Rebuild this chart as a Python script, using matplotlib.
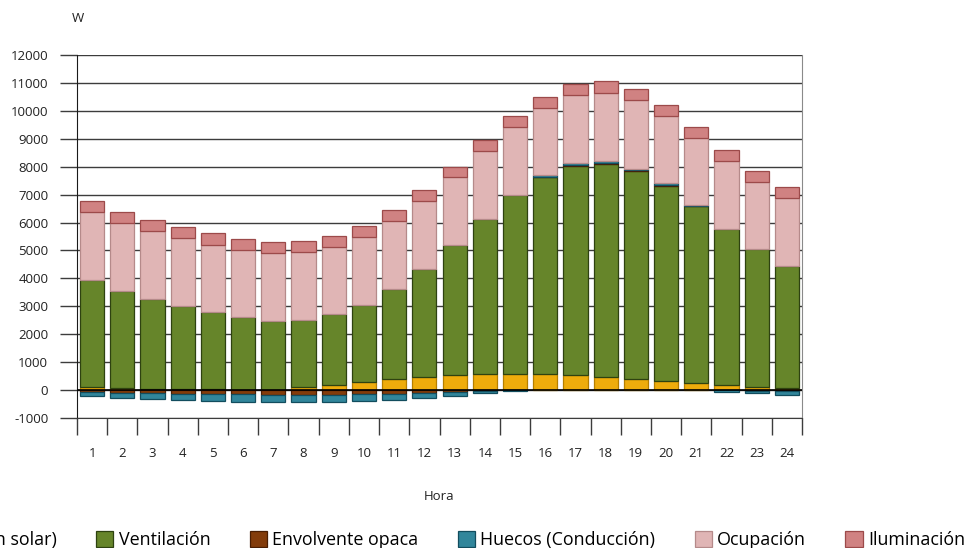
import numpy as np
import matplotlib.pyplot as plt
from matplotlib.ticker import FixedLocator

plt.rcParams['font.family'] = ['Open Sans', 'DejaVu Sans']
plt.rcParams['axes.unicode_minus'] = False

horas = list(range(1, 25))

# cargas por hora (W)
radiacion_solar = [96, 72, 48, 36, 24, 12, 10, 96, 191, 299, 394, 477,
                   537, 584, 584, 561, 525, 477, 406, 334, 262, 167, 107, 72]
ventilacion = [3855, 3474, 3222, 2984, 2757, 2591, 2450, 2400, 2519, 2757, 3223, 3868,
               4645, 5529, 6400, 7056, 7498, 7613, 7426, 6960, 6317, 5599, 4931, 4380]
envolvente = [-85, -95, -107, -131, -143, -155, -167, -167, -167, -143, -131, -107,
              -72, -36, -10, 30, 40, 40, 40, 45, 18, -15, -30, -40]
conduccion = [-145, -190, -227, -227, -251, -263, -275, -275, -263, -263, -239, -193,
              -132, -84, -38, 43, 57, 72, 54, 64, 18, -45, -90, -140]
ocupacion = [2413, 2424, 2425, 2424, 2424, 2411, 2435, 2435, 2423, 2436, 2424, 2436,
             2435, 2447, 2436, 2410, 2435, 2448, 2449, 2422, 2411, 2425, 2412, 2425]
iluminacion = [405, 405, 394, 394, 406, 406, 395, 394, 395, 394, 394, 394,
               382, 381, 394, 406, 405, 405, 393, 394, 394, 394, 406, 393]

series = [
    ("Huecos (Radiación solar)", radiacion_solar, "#EEAC0C", "#B57F00"),
    ("Ventilación", ventilacion, "#66852A", "#2E4210"),
    ("Envolvente opaca", envolvente, "#833C0B", "#4A1E03"),
    ("Huecos (Conducción)", conduccion, "#31869B", "#124D5E"),
    ("Ocupación", ocupacion, "#E0B5B5", "#B58A8A"),
    ("Iluminación", iluminacion, "#D08282", "#9C4A4A"),
]

W, H = 966, 548
fig = plt.figure(figsize=(W / 100, H / 100), dpi=100)
ax = fig.add_axes([77 / W, (H - 418) / H, 725 / W, 363 / H])

x = np.arange(len(horas))
pos_base = np.zeros(len(horas))
neg_base = np.zeros(len(horas))
for nombre, vals, color, borde in series:
    v = np.array(vals, dtype=float)
    base = np.where(v >= 0, pos_base, neg_base)
    ax.bar(x, v, 0.8, bottom=base, color=color, edgecolor=borde,
           linewidth=0.9, label=nombre, zorder=2)
    pos_base = pos_base + np.clip(v, 0, None)
    neg_base = neg_base + np.clip(v, None, 0)

ax.axhline(0, color="black", lw=1.2, zorder=4)

ax.set_xlim(-0.5, len(horas) - 0.5)
ax.set_ylim(-1000, 12000)
ax.set_yticks(np.arange(-1000, 12001, 1000))
ax.yaxis.grid(True, color="#3c3c3c", lw=1)
ax.set_axisbelow(True)
ax.tick_params(axis="y", length=12.2, width=1, color="#3c3c3c", pad=8.5,
               labelsize=9.5, labelcolor="#222222")

ax.set_xticks(x)
ax.set_xticklabels([str(h) for h in horas])
ax.xaxis.set_minor_locator(FixedLocator(np.arange(-0.5, len(horas), 1.0)))
ax.tick_params(axis="x", which="major", length=0, pad=21, labelsize=9.5,
               labelcolor="#222222")
ax.tick_params(axis="x", which="minor", length=12.2, width=1, color="#3c3c3c")

ax.spines["top"].set_visible(False)
ax.spines["bottom"].set_color("#3c3c3c")
ax.spines["left"].set_color("#1a1a1a")
ax.spines["right"].set_color("#8a8a8a")

fig.text(439.5 / W, 1 - 497 / H, "Hora", ha="center", va="center",
         fontsize=9.5, color="#222222")
fig.text(78 / W, 1 - 18 / H, "W", ha="center", va="center",
         fontsize=9.5, color="#222222")

# leyenda en una fila, alineada al borde derecho
fig.legend(loc="center right", bbox_to_anchor=(965 / W, 1 - 540 / H), ncol=6,
           frameon=False, fontsize=12.9, handlelength=0.95, handleheight=0.95,
           handletextpad=0.3, columnspacing=2.2, borderaxespad=0, borderpad=0)

fig.savefig("out.png", dpi=100)
